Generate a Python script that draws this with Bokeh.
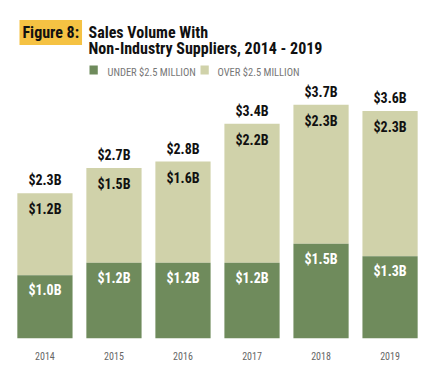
from bokeh.plotting import figure
from bokeh.models import ColumnDataSource, FactorRange, Range1d, Label
from bokeh.core.properties import value
from bokeh.embed import file_html
from bokeh.resources import INLINE

years = ["2014", "2015", "2016", "2017", "2018", "2019"]
under = [1.0, 1.2, 1.2, 1.2, 1.5, 1.3]
over = [1.2, 1.5, 1.6, 2.2, 2.3, 2.3]
total = [2.3, 2.7, 2.8, 3.4, 3.7, 3.6]

DARK = "#6f8b5c"
LIGHT = "#d0d2aa"
FONT = "'Roboto Condensed', 'DejaVu Sans Condensed', 'Liberation Sans Narrow', Roboto, sans-serif"

src = ColumnDataSource(dict(
    year=years, under=under, over=over, total=total,
    under_lbl=["$%.1fB" % v for v in under],
    over_lbl=["$%.1fB" % v for v in over],
    total_lbl=["$%.1fB" % v for v in total],
))

p = figure(width=434, height=375, output_backend="svg", toolbar_location=None,
           x_range=FactorRange(factors=years, range_padding=0.048),
           y_range=Range1d(0, 5.35),
           min_border_left=0, min_border_right=0, min_border_top=0, min_border_bottom=37)
p.outline_line_color = None
p.xgrid.grid_line_color = None
p.ygrid.grid_line_color = None
p.yaxis.visible = False
p.background_fill_color = "white"
p.border_fill_color = "white"

p.vbar(x="year", bottom="under", top="total", width=0.8, source=src,
       fill_color=LIGHT, line_color=None)
p.vbar(x="year", bottom=0, top="under", width=0.8, source=src,
       fill_color=DARK, line_color=None)

common = dict(text_font=value(FONT), text_font_style="bold", text_align="center",
              text_font_size="14px", source=src)
p.text(x="year", y="total", text="total_lbl", text_baseline="bottom", y_offset=-5,
       text_color="#111111", **common)
p.text(x="year", y="total", text="over_lbl", text_baseline="top", y_offset=8,
       text_color="#111111", **common)
p.text(x="year", y="under", text="under_lbl", text_baseline="top", y_offset=7,
       text_color="white", **common)

ax = p.xaxis[0]
ax.axis_line_color = None
ax.major_tick_line_color = None
ax.minor_tick_line_color = None
ax.major_label_standoff = 7
ax.major_label_text_font = FONT
ax.major_label_text_font_size = "10px"
ax.major_label_text_color = "#666666"

# Titles (screen units, relative to frame bottom at 338 px; y = baseline)
title_kw = dict(x_units="screen", y_units="screen", text_font=FONT,
                text_font_style="bold", text_font_size="16px",
                text_color="#111111", text_baseline="alphabetic")
p.add_layout(Label(x=19, y=338 - 32, text="Figure 8:",
                   background_fill_color="#f5c243", padding=3, **title_kw))
p.add_layout(Label(x=88, y=338 - 32, text="Sales Volume With", **title_kw))
p.add_layout(Label(x=88, y=338 - 48, text="Non-Industry Suppliers, 2014 - 2019", **title_kw))

# Legend
leg_kw = dict(x_units="screen", y_units="screen", text_font=FONT,
              text_font_size="10.5px", text_color="#777777",
              text_baseline="alphabetic")
p.add_layout(Label(x=89, y=338 - 74, x_units="screen", y_units="screen", text=" ",
                   background_fill_color=DARK, text_font_size="1px", padding=4))
p.add_layout(Label(x=107, y=338 - 72, text="UNDER $2.5 MILLION", **leg_kw))
p.add_layout(Label(x=200, y=338 - 74, x_units="screen", y_units="screen", text=" ",
                   background_fill_color=LIGHT, text_font_size="1px", padding=4))
p.add_layout(Label(x=217, y=338 - 72, text="OVER $2.5 MILLION", **leg_kw))

open("out.html", "w").write(file_html(p, INLINE))
